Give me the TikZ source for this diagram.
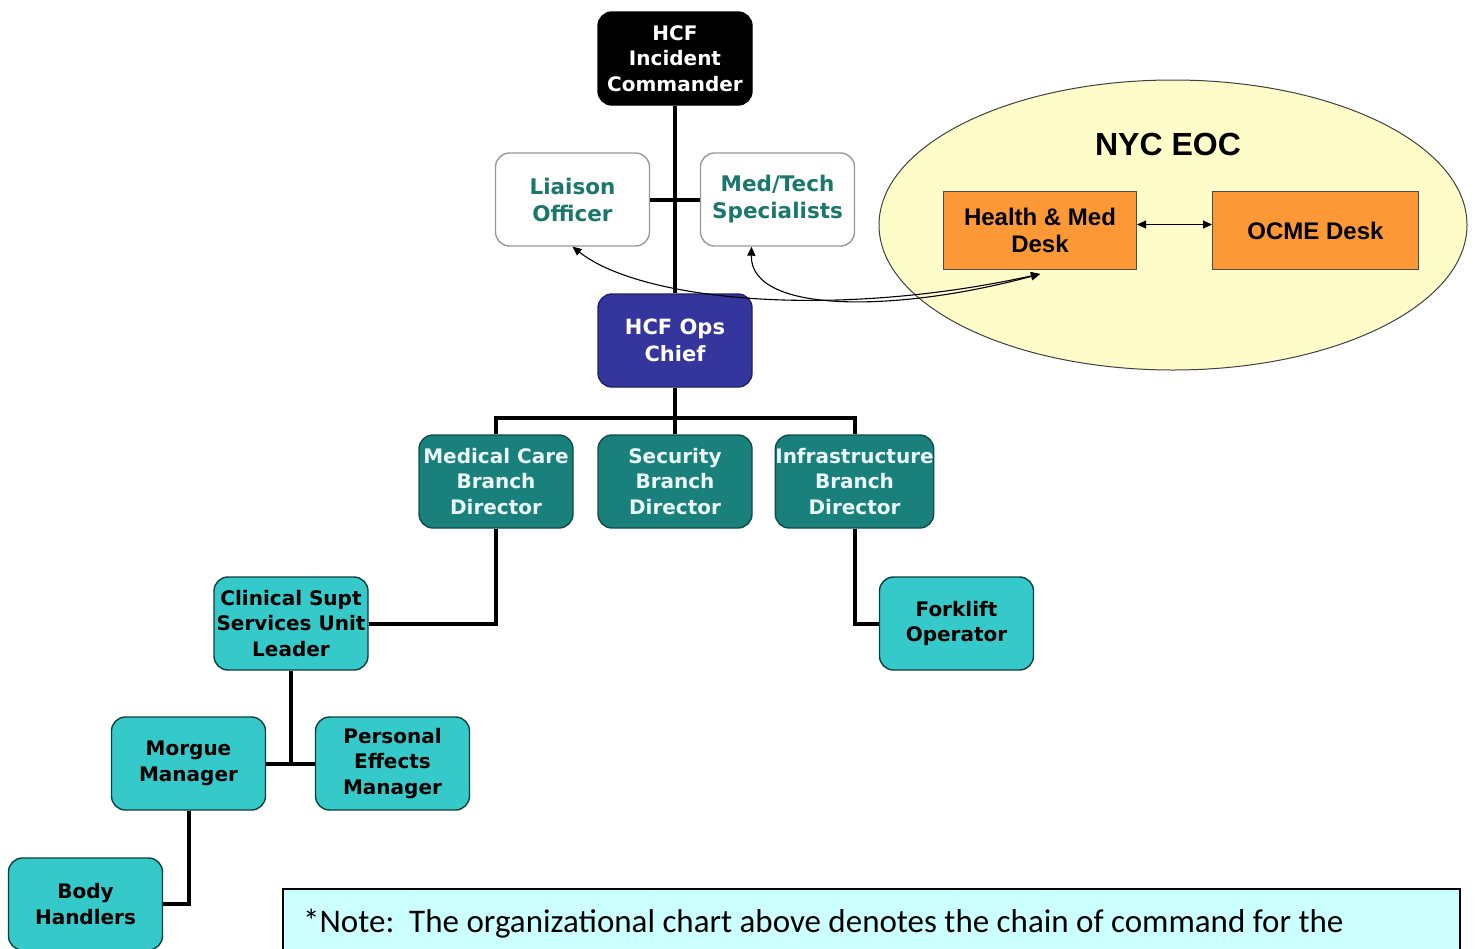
\documentclass[tikz,border=0pt]{standalone}
\usepackage{fontspec}
\setmainfont{DejaVu Sans}
\newfontfamily\arialf{Liberation Sans}
\newfontfamily\calf{Carlito}
\usetikzlibrary{arrows.meta,backgrounds}
\definecolor{opsblue}{HTML}{35359E}
\definecolor{darkteal}{HTML}{19807B}
\definecolor{lightteal}{HTML}{35C9C9}
\definecolor{tealtext}{HTML}{1B766C}
\definecolor{eocfill}{HTML}{FEFCC8}
\definecolor{deskorange}{HTML}{FC9835}
\definecolor{notefill}{HTML}{CCFFFF}
\tikzset{
  box/.style={rounded corners=14pt, minimum width=154pt, minimum height=93pt, inner sep=0pt,
    align=center, line width=1.4pt, font=\bfseries\fontsize{20}{25.5}\selectfont},
  blackbox/.style={box, fill=black, draw=black, text=white},
  whitebox/.style={box, fill=white, draw=gray!80, text=tealtext, font=\bfseries\fontsize{21.5}{27}\selectfont},
  bluebox/.style={box, fill=opsblue, draw=opsblue!60!black, text=white, font=\bfseries\fontsize{21}{27}\selectfont},
  darkbox/.style={box, fill=darkteal, draw=darkteal!60!black, text=white!92!cyan},
  lightbox/.style={box, fill=lightteal, draw=darkteal!50!black, text=black},
  desk/.style={rectangle, draw=black!70, line width=1pt, fill=deskorange, minimum width=193pt,
    minimum height=78pt, inner sep=0pt, align=center, font=\arialf\bfseries\fontsize{24}{27}\selectfont},
  conn/.style={line width=4pt, black},
  link/.style={line width=1.1pt, black, {Triangle[length=9pt,width=8pt]}-{Triangle[length=9pt,width=8pt]}}
}
\begin{document}
\begin{tikzpicture}[x=1pt,y=-1pt]
\clip (0,0) rectangle (1477,948);
% EOC ellipse
\draw[fill=eocfill, draw=black!75, line width=1pt] (1173,225) ellipse [x radius=294pt, y radius=145pt];
\node[font=\arialf\bfseries\fontsize{32}{36}\selectfont] (eoc) at (1168,144) {NYC EOC};
\node[desk] (hmd) at (1040,230.5) {Health \& Med\\Desk};
\node[desk, minimum width=206pt] (ocme) at (1315.5,230.5) {OCME Desk};
\draw[line width=1pt, {Triangle[length=9pt,width=8pt]}-{Triangle[length=9pt,width=8pt]}] ([yshift=6pt]hmd.east) -- ([yshift=6pt]ocme.west);
% nodes
\node[blackbox] (ic) at (675,58.5) {HCF\\Incident\\Commander};
\node[whitebox] (lia) at (572.5,199.5) {Liaison\\Officer};
\node[whitebox] (med) at (777.5,199.5) {Med/Tech\\Specialists};
\node[bluebox] (ops) at (675,340.5) {HCF Ops\\Chief};
\node[darkbox] (mcb) at (496,481.5) {Medical Care\\Branch\\Director};
\node[darkbox] (sec) at (675,481.5) {Security\\Branch\\Director};
\node[darkbox] (inf) at (854.5,481.5) {Infrastructure\\Branch\\Director};
\node[lightbox] (csu) at (291,623.5) {Clinical Supt\\Services Unit\\Leader};
\node[lightbox] (fork) at (956.5,623.5) {Forklift\\Operator};
\node[lightbox] (morg) at (188.5,763.5) {Morgue\\Manager};
\node[lightbox] (pem) at (392.5,763.5) {Personal\\Effects\\Manager};
\node[lightbox, minimum height=92pt] (body) at (85.5,904) {Body\\Handlers};
% connectors
\coordinate (bus) at (675,418);
\begin{pgfonlayer}{background}
\fill[white] (0,0) rectangle (1477,948);
\draw[conn] (ic.south) -- (ops.north);
\draw[conn] (lia.east) -- (med.west);
\draw[conn] (ops.south) -- (bus);
\draw[conn] (mcb.north) |- (bus) -| (inf.north);
\draw[conn] (sec.north) -- (sec.north |- bus);
\draw[conn] (mcb.south) |- (csu.east);
\draw[conn] (inf.south) |- (fork.west);
\draw[conn] (csu.south) -- (csu.south |- morg.east);
\draw[conn] (morg.east) -- (pem.west);
\draw[conn] (morg.south) |- (body.east);
\end{pgfonlayer}
% curved links to EOC
\draw[link] (lia.south) .. controls (640,300) and (830,320) .. ([yshift=-4pt]hmd.south);
\draw[link] ([xshift=-26pt]med.south) .. controls (750,315) and (900,312) .. ([yshift=-4pt]hmd.south);
% note
\draw[fill=notefill, draw=black, line width=2pt] (283,889) rectangle (1460,970);
\node[anchor=base west, inner sep=0pt, font=\calf\fontsize{33}{36}\selectfont] (note) at (303,932) {*Note:\ \ The organizational chart above denotes the chain of command for the};
\end{tikzpicture}
\end{document}
